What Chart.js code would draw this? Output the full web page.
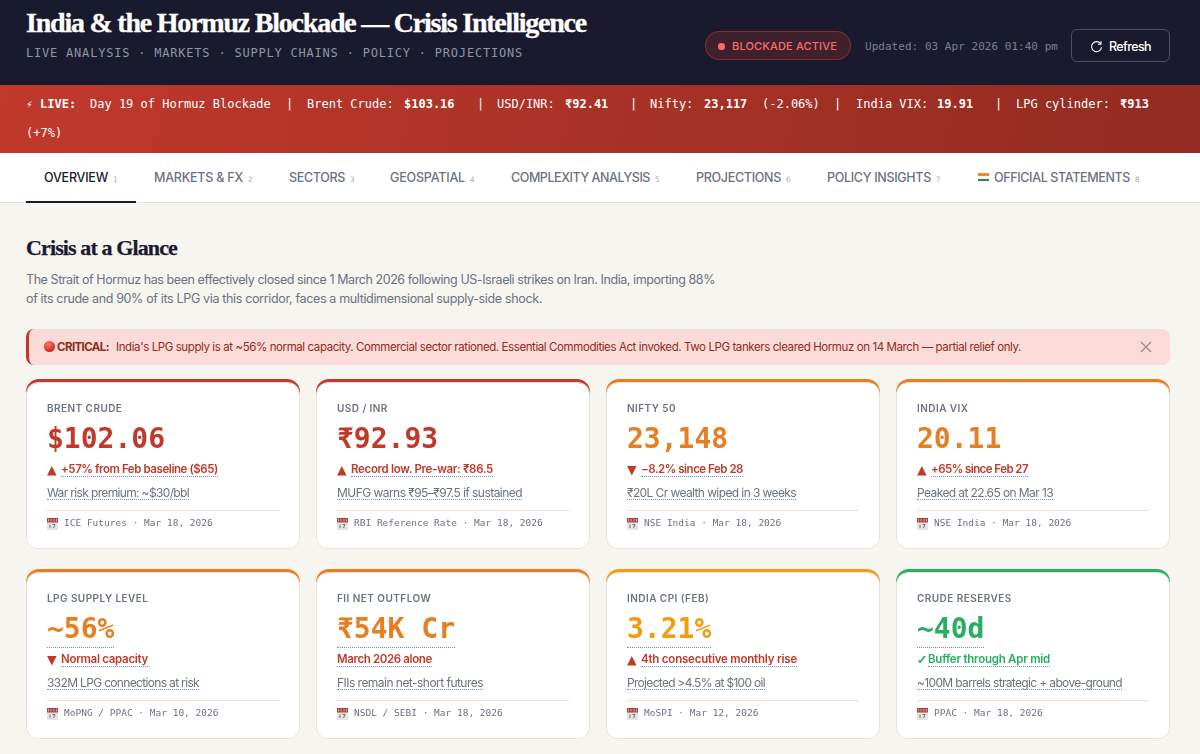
<!DOCTYPE html>
<html><head><meta charset="utf-8">
<script src="https://cdn.jsdelivr.net/npm/chart.js@4"></script>
<style>
html,body{margin:0;padding:0;width:1200px;height:754px;overflow:hidden;background:#f7f5f0}
#page{position:relative;width:1200px;height:754px;overflow:hidden}
.b{position:absolute}
.t{position:absolute;white-space:pre;transform:translateY(-50%);line-height:1.2}
canvas{position:absolute;display:block}
</style></head><body><div id="page"></div>
<script>
// ---- chart content ----
const row1Labels = ["BRENT CRUDE","USD / INR","NIFTY 50","INDIA VIX"];
const row1Values = ["$102.06","₹92.93","23,148","20.11"];
const row1Marks  = ["▲","▲","▼","▲"];
const row1Deltas = ["+57% from Feb baseline ($65)","Record low. Pre-war: ₹86.5","−8.2% since Feb 28","+65% since Feb 27"];
const row1Notes  = ["War risk premium: ~$30/bbl","MUFG warns ₹95–₹97.5 if sustained","₹20L Cr wealth wiped in 3 weeks","Peaked at 22.65 on Mar 13"];
const row1Sources= ["ICE Futures · Mar 18, 2026","RBI Reference Rate · Mar 18, 2026","NSE India · Mar 18, 2026","NSE India · Mar 18, 2026"];
const row2Labels = ["LPG SUPPLY LEVEL","FII NET OUTFLOW","INDIA CPI (FEB)","CRUDE RESERVES"];
const row2Values = ["~56%","₹54K Cr","3.21%","~40d"];
const row2Marks  = ["▼","","▲","✓"];
const row2Deltas = ["Normal capacity","March 2026 alone","4th consecutive monthly rise","Buffer through Apr mid"];
const row2Notes  = ["332M LPG connections at risk","FIIs remain net-short futures","Projected >4.5% at $100 oil","~100M barrels strategic + above-ground"];
const row2Sources= ["MoPNG / PPAC · Mar 10, 2026","NSDL / SEBI · Mar 18, 2026","MoSPI · Mar 12, 2026","PPAC · Mar 18, 2026"];
const cardFrame  = [[0.5,1],[0.5,1],[0.5,1],[0.5,1]];
const cardFace   = [0.982,0.982,0.982,0.982];
const navItems   = ["OVERVIEW","MARKETS & FX","SECTORS","GEOSPATIAL","COMPLEXITY ANALYSIS","PROJECTIONS","POLICY INSIGHTS","OFFICIAL STATEMENTS"];
const navNums    = ["1","2","3","4","5","6","7","8"];

// ---- styles and layout ----
const RED="#c0392b",ORG="#e67e22",AMB="#f39c12",GRN="#27ae60";
const row1Accent=[RED,RED,ORG,ORG], row2Accent=[ORG,ORG,AMB,GRN];
const row1ValCol=[RED,RED,ORG,ORG], row2ValCol=[ORG,ORG,AMB,GRN];
const row1DeltaCol=[RED,RED,RED,RED], row2DeltaCol=[RED,RED,RED,GRN];
const row1DeltaX=[14,14,14,14], row2DeltaX=[14,0,14,11];
const row1DeltaW=[157,142,102,97], row2DeltaW=[87,95,156,122];
const row1NoteW=[142,185,169,136], row2NoteW=[152,146,138,205];
const row2Underline=[true,true,true,true];
const navX=[44,154,289,390,511,696,827,994], navW=[64,89,56,75,139,85,104,136];
const SANS="Inter,'Noto Sans',sans-serif", MONO="'DejaVu Sans Mono',monospace", SERIF="'Liberation Serif',serif";
const page=document.getElementById('page');
function box(x,y,w,h,css){const d=document.createElement('div');d.className='b';d.style.cssText=`left:${x}px;top:${y}px;width:${w}px;height:${h}px;`+(css||'');page.appendChild(d);return d;}
function put(x,cy,text,css,w){
  const s=document.createElement('span');s.className='t';s.style.cssText=`left:${x}px;top:${cy}px;`+(css||'');s.textContent=text;page.appendChild(s);
  if(w){const m=s.getBoundingClientRect().width;s.style.letterSpacing=((w-m)/text.length)+'px';}
  return s;}

// header
box(0,0,1200,85,'background:#1a1a2e');
put(26,23,"India & the Hormuz Blockade — Crisis Intelligence",`font:700 28px ${SERIF};color:#fff;-webkit-text-stroke:.3px #fff;`,560);
put(26,52.5,"LIVE ANALYSIS · MARKETS · SUPPLY CHAINS · POLICY · PROJECTIONS",`font:400 12px ${MONO};color:#8f95a3;`,497);
box(705,31,146,29,'box-sizing:border-box;border-radius:15px;background:rgba(192,57,43,.22);border:1px solid rgba(192,57,43,.55)');
box(718,43,6.5,6.5,'border-radius:50%;background:#ff6b6b');
put(732,45.5,"BLOCKADE ACTIVE",`font:500 11px ${SANS};color:#ff6b6b;`,105);
put(865,45.5,"Updated: 03 Apr 2026 01:40 pm",`font:400 11px ${MONO};color:#7b8090;`,193);
box(1071,29,99,33,'box-sizing:border-box;border-radius:6px;border:1px solid #4a5060');
box(1090,39,13,13,'').innerHTML='<svg width="13" height="13" viewBox="0 0 13 13"><path d="M10.8 4A5 5 0 1 0 11.5 7.2" stroke="#fff" stroke-width="1.1" fill="none"/><path d="M11 1.2V4.3H7.9" stroke="#fff" stroke-width="1.1" fill="none"/></svg>';
put(1109,45.5,"Refresh",`font:500 12.5px ${SANS};color:#fff;`,42);

// ticker
box(0,85,1200,68,'background:linear-gradient(100deg,#c0392b 0%,#922b21 100%)');
const tick=`font:400 12px ${MONO};color:#fff;`;
put(26,104,"⚡",tick+'font-size:11px;');
put(40,104,"LIVE:",tick+'font-weight:700;');
put(90,104,"Day 19 of Hormuz Blockade",tick);
put(286,104,"|",tick); put(307,104,"Brent Crude:",tick); put(404,104,"$103.16",tick+'font-weight:700;');
put(477,104,"|",tick); put(497,104,"USD/INR:",tick); put(565,104,"₹92.41",tick+'font-weight:700;');
put(630,104,"|",tick); put(650,104,"Nifty:",tick); put(704,104,"23,117",tick+'font-weight:700;'); put(762,104,"(-2.06%)",tick);
put(834,104,"|",tick); put(856,104,"India VIX:",tick); put(937,104,"19.91",tick+'font-weight:700;');
put(995,104,"|",tick); put(1016,104,"LPG cylinder:",tick); put(1120,104,"₹913",tick+'font-weight:700;');
put(26,133,"(+7%)",tick);

// nav
box(0,153,1200,50,'background:#fff;border-bottom:1px solid #e8e2da;box-sizing:border-box');
box(26,201,110,2,'background:#1a1a2e');
navItems.forEach((n,i)=>{
  put(navX[i],176.5,n,`font:500 12.5px ${SANS};color:${i==0?'#1a1a2e':'#6b7280'};`,navW[i]);
  put(navX[i]+navW[i]+5,178.5,navNums[i],`font:400 7.5px ${MONO};color:#a8adb5;`);
});
box(978,173,11,2.5,'background:#f08a24');box(978,175.5,11,3,'background:#f4f4f4');box(978,178.5,11,2.5,'background:#2e8b3d');

// intro
put(26,248,"Crisis at a Glance",`font:700 22px ${SERIF};color:#1a1a2e;-webkit-text-stroke:.25px #1a1a2e;`,151);
put(26,279,"The Strait of Hormuz has been effectively closed since 1 March 2026 following US-Israeli strikes on Iran. India, importing 88%",`font:400 12.5px ${SANS};color:#6b7280;`,689);
put(26,298,"of its crude and 90% of its LPG via this corridor, faces a multidimensional supply-side shock.",`font:400 12.5px ${SANS};color:#6b7280;`,516);

// alert
box(26,329,1144,36,'box-sizing:border-box;background:#fadbd8;border-left:3px solid #c0392b;border-radius:8px');
box(44,341,11,11,'border-radius:50%;background:radial-gradient(circle at 40% 30%,#f47a6e,#d8281e 70%)');
put(57,346.5,"CRITICAL:",`font:700 11.5px ${SANS};color:#922b21;`,52);
put(116,346.5,"India's LPG supply is at ~56% normal capacity. Commercial sector rationed. Essential Commodities Act invoked. Two LPG tankers cleared Hormuz on 14 March — partial relief only.",`font:400 11.5px ${SANS};color:#922b21;`,905);
box(1139,340,14,14,'').innerHTML='<svg width="14" height="14" viewBox="0 0 14 14"><path d="M2 2L12 12M12 2L2 12" stroke="#a08a88" stroke-width="1.3" fill="none"/></svg>';

// cards: the frames are bars in Chart.js
function cardChart(top,labels,accent){
  const c=document.createElement('canvas');c.width=1160;c.height=170;
  c.style.cssText=`left:18px;top:${top}px;width:1160px;height:170px;`;page.appendChild(c);
  new Chart(c,{type:'bar',data:{labels:labels,datasets:[
    {data:cardFrame,backgroundColor:accent,borderRadius:{topLeft:13,topRight:13,bottomLeft:0,bottomRight:0},borderSkipped:false,order:2,barPercentage:.9448,categoryPercentage:1},
    {data:cardFace,backgroundColor:'#fff',borderColor:'#e6e2da',borderWidth:1,borderRadius:12,borderSkipped:false,order:1,barPercentage:.9448,categoryPercentage:1}
  ]},options:{responsive:false,animation:false,devicePixelRatio:1,layout:{padding:0},
    plugins:{legend:{display:false},tooltip:{enabled:false}},
    scales:{x:{display:false,stacked:true},y:{display:false,min:0,max:1}}}});
}
cardChart(379,row1Labels,row1Accent);
cardChart(569,row2Labels,row2Accent);

const calIcon='<svg width="11" height="12" viewBox="0 0 11 12"><rect y="0" width="11" height="12" fill="#e6e4e2"/><rect y="0" width="11" height="4.5" fill="#a8443c"/><path d="M1.5 1V3.5M4 1V3.5M7 1V3.5M9.5 1V3.5" stroke="#e6d8d6" stroke-width=".7"/><path d="M3 6.5V10M5.5 6.5H8L6.5 10" stroke="#55585e" stroke-width=".8" fill="none"/></svg>';

function cards(top,labels,values,valCol,marks,deltas,deltaCol,deltaX,deltaW,notes,noteW,sources,uline){
  labels.forEach((l,i)=>{
    const x=47+290*i, y=top;
    put(x,y+29,l,`font:600 10px ${SANS};color:#6b7280;letter-spacing:.45px;`);
    const v=put(x,y+59,values[i],`font:700 28px ${MONO};color:${valCol[i]};`);
    if(uline&&uline[i]) box(x,y+78,v.getBoundingClientRect().width,0,'border-bottom:1px dotted #6f93b5');
    if(marks[i]) put(x,y+90,marks[i],`font:700 12.5px 'DejaVu Sans';color:${deltaCol[i]};`+(marks[i]=="✓"?`-webkit-text-stroke:.6px ${deltaCol[i]};`:''));
    put(x+deltaX[i],y+90,deltas[i],`font:600 11.5px ${SANS};color:${deltaCol[i]};`,deltaW[i]);
    box(x+deltaX[i],y+97,deltaW[i],0,'border-bottom:1px dotted #6f93b5');
    put(x,y+113,notes[i],`font:400 12px ${SANS};color:#6b7280;`,noteW[i]);
    box(x,y+120,noteW[i],0,'border-bottom:1px dotted #6f93b5');
    box(x,y+131,232,1,'background:#e6e2da');
    box(x,y+137,11,12,'').innerHTML=calIcon;
    put(x+17,y+143,sources[i],`font:400 9.5px ${MONO};color:#6b7280;`);
  });
}
cards(379,row1Labels,row1Values,row1ValCol,row1Marks,row1Deltas,row1DeltaCol,row1DeltaX,row1DeltaW,row1Notes,row1NoteW,row1Sources,null);
cards(569,row2Labels,row2Values,row2ValCol,row2Marks,row2Deltas,row2DeltaCol,row2DeltaX,row2DeltaW,row2Notes,row2NoteW,row2Sources,row2Underline);
</script></body></html>
